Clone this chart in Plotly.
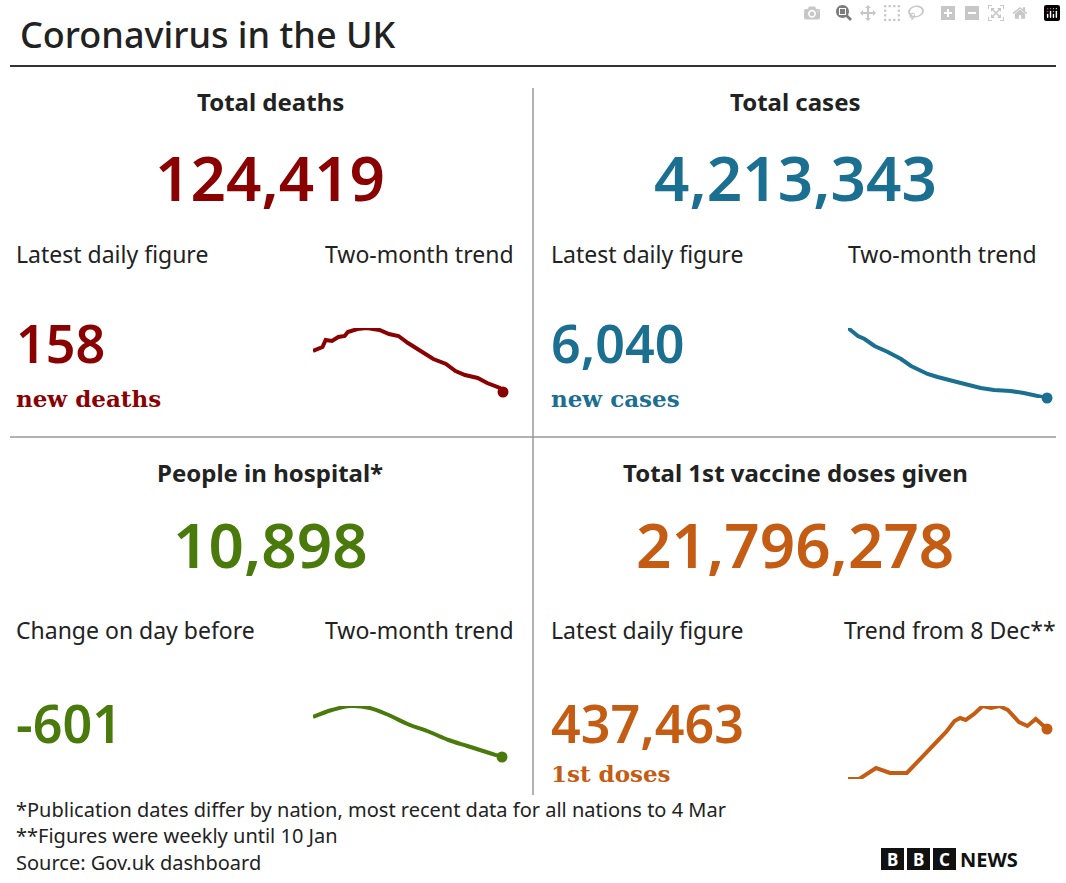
import plotly.graph_objects as go

W, H = 1066, 883

# sparkline readings (day index, relative level)
deaths_days = [0, 3, 4, 6, 8, 10, 11, 14, 17, 21, 24, 27, 30, 34, 38, 42, 45, 48, 52, 55, 59, 60]
deaths_vals = [49, 53, 60, 59, 63, 64, 68, 71, 72, 70, 66, 64, 57, 49, 41, 36, 29, 25, 22, 17, 12, 8]
cases_days = [0, 3, 5, 8, 12, 16, 19, 24, 27, 30, 34, 40, 44, 49, 53, 60]
cases_vals = [72, 64, 61, 54, 48, 41, 34, 26, 23, 20, 17, 12, 10, 9, 7, 2]
hosp_days = [0, 6, 12, 18, 24, 30, 37, 43, 49, 55, 60]
hosp_vals = [83, 90, 94, 92, 85, 76, 68, 60, 54, 48, 43]
vacc_days = [0, 4, 10, 15, 21, 27, 32, 35, 38, 40, 42, 45, 48, 51, 54, 57, 61, 64, 67, 71]
vacc_vals = [21, 21, 32, 27, 27, 45, 60, 68, 79, 82, 80, 86, 94, 92, 94, 90, 78, 74, 81, 71]

DEATH_C = "#8a0101"
CASE_C = "#1b6f91"
HOSP_C = "#4a7a0b"
VACC_C = "#c45c13"
FONT = "Noto Sans"
SERIF = "DejaVu Serif"

fig = go.Figure()

# sparkline boxes in pixel space: x0, x1, y_top, y_bottom
sparks = [
    (deaths_days, deaths_vals, DEATH_C, (313, 503, 328, 392), "linear"),
    (cases_days, cases_vals, CASE_C, (848, 1047, 328, 398), "linear"),
    (hosp_days, hosp_vals, HOSP_C, (313, 502, 706, 757), "spline"),
    (vacc_days, vacc_vals, VACC_C, (848, 1047, 706, 779), "linear"),
]
layout_axes = {}
for i, (xs, ys, col, (x0, x1, yt, yb), shape) in enumerate(sparks, start=1):
    sfx = "" if i == 1 else str(i)
    fig.add_trace(go.Scatter(x=xs, y=ys, mode="lines", line=dict(color=col, width=4, shape=shape),
                             cliponaxis=False, xaxis="x" + sfx, yaxis="y" + sfx, hoverinfo="skip"))
    fig.add_trace(go.Scatter(x=[xs[-1]], y=[ys[-1]], mode="markers", cliponaxis=False,
                             marker=dict(color=col, size=11),
                             xaxis="x" + sfx, yaxis="y" + sfx, hoverinfo="skip"))
    layout_axes["xaxis" + sfx] = dict(domain=[x0 / W, x1 / W], range=[min(xs), max(xs)],
                                      visible=False, anchor="y" + sfx)
    layout_axes["yaxis" + sfx] = dict(domain=[1 - yb / H, 1 - yt / H], range=[min(ys), max(ys)],
                                      visible=False, anchor="x" + sfx)

ann = []
def txt(x, y, s, size, color="#222222", anchor="center", family=FONT, weight=400):
    ann.append(dict(x=x / W, y=1 - y / H, xref="paper", yref="paper", text=s, showarrow=False,
                    xanchor=anchor, yanchor="middle",
                    font=dict(size=size, color=color, family=family, weight=weight)))

txt(18, 34, "Coronavirus in the UK", 36, "#222222", "left", weight=500)

txt(270, 102, "Total deaths", 24, weight=700)
txt(270, 177, "124,419", 62, DEATH_C, weight=600)
txt(14, 254, "Latest daily figure", 23, anchor="left")
txt(516, 254, "Two-month trend", 23, anchor="right")
txt(14, 343, "158", 52, DEATH_C, "left", weight=600)
txt(14, 398, "new deaths", 23, DEATH_C, "left", SERIF, 600)

txt(795, 102, "Total cases", 24, weight=700)
txt(795, 177, "4,213,343", 62, CASE_C, weight=600)
txt(549, 254, "Latest daily figure", 23, anchor="left")
txt(1039, 254, "Two-month trend", 23, anchor="right")
txt(549, 343, "6,040", 52, CASE_C, "left", weight=600)
txt(549, 398, "new cases", 23, CASE_C, "left", SERIF, 600)

txt(270, 472, "People in hospital*", 24, weight=700)
txt(270, 544, "10,898", 62, HOSP_C, weight=600)
txt(14, 630, "Change on day before", 23, anchor="left")
txt(516, 630, "Two-month trend", 23, anchor="right")
txt(14, 722, "-601", 52, HOSP_C, "left", weight=600)

txt(795, 472, "Total 1st vaccine doses given", 24, weight=700)
txt(795, 544, "21,796,278", 62, VACC_C, weight=600)
txt(549, 630, "Latest daily figure", 23, anchor="left")
txt(1058, 630, "Trend from 8 Dec**", 23, anchor="right")
txt(549, 722, "437,463", 52, VACC_C, "left", weight=600)
txt(549, 773, "1st doses", 23, VACC_C, "left", SERIF, 600)

txt(14, 809, "*Publication dates differ by nation, most recent data for all nations to 4 Mar", 20, anchor="left")
txt(14, 835, "**Figures were weekly until 10 Jan", 20, anchor="left")
txt(14, 862, "Source: Gov.uk dashboard", 20, anchor="left")

shapes = [
    dict(type="line", x0=10 / W, x1=1056 / W, y0=1 - 66 / H, y1=1 - 66 / H, xref="paper", yref="paper",
         line=dict(color="#333333", width=2)),
    dict(type="line", x0=10 / W, x1=1056 / W, y0=1 - 437 / H, y1=1 - 437 / H, xref="paper", yref="paper",
         line=dict(color="#999999", width=1.5)),
    dict(type="line", x0=533 / W, x1=533 / W, y0=1 - 88 / H, y1=1 - 795 / H, xref="paper", yref="paper",
         line=dict(color="#999999", width=1.5)),
]
# BBC NEWS logo
for j, ch in enumerate("BBC"):
    bx = 881 + j * 26
    shapes.append(dict(type="rect", x0=bx / W, x1=(bx + 23) / W, y0=1 - 870 / H, y1=1 - 848 / H,
                       xref="paper", yref="paper", fillcolor="#111111", line=dict(width=0)))
    txt(bx + 11.5, 859, ch, 17, "white", weight=700)
txt(958, 859, "NEWS", 20, "#111111", "left", weight=700)

fig.update_layout(width=W, height=H, margin=dict(l=0, r=0, t=0, b=0),
                  paper_bgcolor="white", plot_bgcolor="white", showlegend=False,
                  annotations=ann, shapes=shapes, **layout_axes)
fig.write_html("out.html", post_script="document.body.style.margin='0';")
